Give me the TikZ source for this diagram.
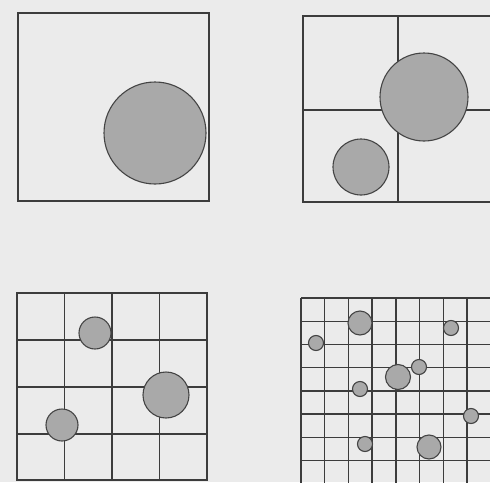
\documentclass[tikz,border=0pt]{standalone}
\usetikzlibrary{calc}
\definecolor{paper}{HTML}{EBEBEB}
\definecolor{gridline}{HTML}{3C3C3C}
\definecolor{discfill}{HTML}{A9A9A9}
\definecolor{discedge}{HTML}{444444}
\tikzset{
  frame/.style={draw=gridline, line width=1.8pt},
  cell/.style={draw=gridline, line width=1.6pt},
  fine/.style={draw=gridline, line width=1.4pt},
  disc/.style={fill=discfill, draw=discedge, line width=1.1pt},
}
\begin{document}
\begin{tikzpicture}[x=1pt,y=-1pt]
\fill[paper] (0,0) rectangle (490,482);
\useasboundingbox (0,0) rectangle (490,482);
\begin{scope}
\clip (0,0) rectangle (490,482);
% Panel 1: single cell
\draw[frame] (18,13) rectangle (209,201);
\draw[disc] (155,133) circle (51);
% Panel 2: 2x2 grid
\draw[frame] (303,16) rectangle (493,202);
\draw[cell] (303,110) -- (493,110);
\draw[cell] (398,16) -- (398,202);
\draw[disc] (424,97) circle (44);
\draw[disc] (361,167) circle (28);
% Panel 3: 4x4 grid
\draw[frame] (17,293) rectangle (207,480);
\foreach \x in {64.5,112,159.5} \draw[cell] (\x,293) -- (\x,480);
\foreach \y in {340,387,434} \draw[cell] (17,\y) -- (207,\y);
\draw[disc] (95,333) circle (16);
\draw[disc] (166,395) circle (23);
\draw[disc] (62,425) circle (16);
% Panel 4: 8x8 grid
\foreach \i in {0,...,8} {
  \draw[fine] ({301+23.7*\i},298) -- ({301+23.7*\i},490);
  \draw[fine] (301,{298+23.2*\i}) -- (500,{298+23.2*\i});
}
\draw[disc] (360,323) circle (12);
\draw[disc] (316,343) circle (7.5);
\draw[disc] (451,328) circle (7.5);
\draw[disc] (419,367) circle (7.5);
\draw[disc] (398,377) circle (12.5);
\draw[disc] (360,389) circle (7.5);
\draw[disc] (471,416) circle (7.5);
\draw[disc] (365,444) circle (7.5);
\draw[disc] (429,447) circle (12);
\end{scope}
\end{tikzpicture}
\end{document}
